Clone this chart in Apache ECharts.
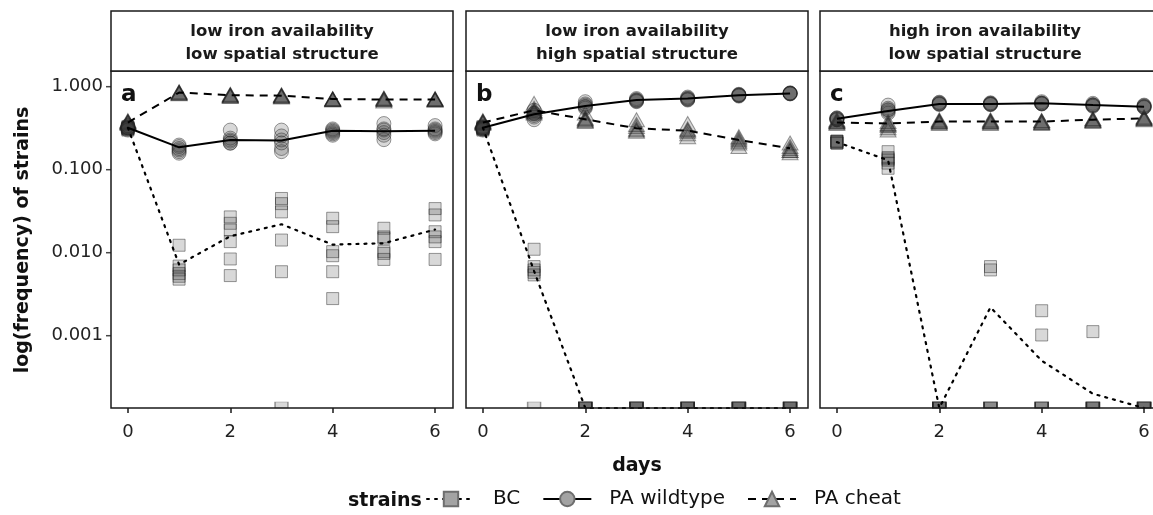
<!DOCTYPE html>
<html>
<head>
<meta charset="utf-8">
<script src="https://cdn.jsdelivr.net/npm/echarts@6/dist/echarts.min.js"></script>
<style>
  html, body { margin: 0; padding: 0; background: #fff; }
  #chart { width: 1153px; height: 515px; }
</style>
</head>
<body>
<div id="chart"></div>
<script>
  // days of sampling
  const days = [0, 1, 2, 3, 4, 5, 6]
  const yTicks = [0.001, 0.01, 0.1, 1]
  const xTicks = [0, 2, 4, 6]
  const panelTitles = [
    'low iron availability\nlow spatial structure',
    'low iron availability\nhigh spatial structure',
    'high iron availability\nlow spatial structure'
  ]
  const panelLetters = ['a', 'b', 'c']

  // replicate frequencies, one row per day (0 = not detected)
  const bcA = [
    [0.33, 0.32, 0.31, 0.30, 0.32, 0.31],
    [0.0123, 0.0069, 0.0062, 0.0056, 0.0048, 0.0052],
    [0.027, 0.0226, 0.0188, 0.0136, 0.0084, 0.0053],
    [0.045, 0.039, 0.031, 0.0142, 0.0059, 0],
    [0.026, 0.0206, 0.0103, 0.0092, 0.0059, 0.0028],
    [0.0197, 0.0149, 0.0103, 0.0098, 0.0083, 0.0155],
    [0.034, 0.0285, 0.0179, 0.0136, 0.0155, 0.0083]
  ]
  const wtA = [
    [0.33, 0.31, 0.32, 0.30, 0.34, 0.32],
    [0.198, 0.173, 0.158, 0.19, 0.165, 0.18],
    [0.30, 0.228, 0.208, 0.22, 0.24, 0.21],
    [0.30, 0.255, 0.228, 0.18, 0.165, 0.21],
    [0.31, 0.28, 0.26, 0.30, 0.29, 0.27],
    [0.36, 0.30, 0.23, 0.28, 0.26, 0.31],
    [0.34, 0.30, 0.27, 0.29, 0.31, 0.28]
  ]
  const chA = [
    [0.38, 0.37, 0.36, 0.39, 0.37, 0.38],
    [0.87, 0.84, 0.82, 0.86, 0.85, 0.83],
    [0.80, 0.78, 0.76, 0.81, 0.79, 0.77],
    [0.79, 0.77, 0.75, 0.80, 0.78, 0.76],
    [0.72, 0.70, 0.69, 0.71, 0.71, 0.70],
    [0.73, 0.70, 0.67, 0.71, 0.69, 0.72],
    [0.71, 0.70, 0.69, 0.72, 0.70, 0.69]
  ]
  const bcB = [
    [0.33, 0.32, 0.31, 0.30, 0.32, 0.31],
    [0.011, 0.0068, 0.0062, 0.0054, 0.0058, 0],
    [0, 0, 0, 0, 0, 0],
    [0, 0, 0, 0, 0, 0],
    [0, 0, 0, 0, 0, 0],
    [0, 0, 0, 0, 0, 0],
    [0, 0, 0, 0, 0, 0]
  ]
  const wtB = [
    [0.32, 0.31, 0.33, 0.30, 0.32, 0.31],
    [0.52, 0.47, 0.43, 0.40, 0.45, 0.48],
    [0.66, 0.60, 0.55, 0.58, 0.62, 0.57],
    [0.72, 0.69, 0.66, 0.70, 0.68, 0.67],
    [0.75, 0.72, 0.69, 0.71, 0.73, 0.70],
    [0.81, 0.79, 0.77, 0.80, 0.78, 0.79],
    [0.84, 0.83, 0.82, 0.83, 0.84, 0.82]
  ]
  const chB = [
    [0.38, 0.36, 0.37, 0.39, 0.37, 0.38],
    [0.63, 0.52, 0.50, 0.48, 0.55, 0.51],
    [0.48, 0.42, 0.38, 0.40, 0.41, 0.39],
    [0.40, 0.35, 0.31, 0.30, 0.33, 0.29],
    [0.36, 0.31, 0.27, 0.25, 0.29, 0.30],
    [0.25, 0.23, 0.21, 0.19, 0.22, 0.24],
    [0.21, 0.19, 0.17, 0.16, 0.18, 0.17]
  ]
  const bcC = [
    [0.22, 0.21, 0.22, 0.21, 0.22, 0.21],
    [0.165, 0.14, 0.13, 0.12, 0.104, 0.135],
    [0, 0, 0, 0, 0, 0],
    [0.0068, 0.0062, 0, 0, 0, 0],
    [0.0020, 0.00102, 0, 0, 0, 0],
    [0.00112, 0, 0, 0, 0, 0],
    [0, 0, 0, 0, 0, 0]
  ]
  const wtC = [
    [0.42, 0.41, 0.40, 0.41, 0.42, 0.40],
    [0.60, 0.55, 0.50, 0.48, 0.52, 0.53],
    [0.65, 0.63, 0.61, 0.62, 0.64, 0.62],
    [0.64, 0.62, 0.61, 0.63, 0.62, 0.61],
    [0.66, 0.63, 0.62, 0.64, 0.62, 0.63],
    [0.63, 0.61, 0.59, 0.60, 0.58, 0.60],
    [0.60, 0.58, 0.56, 0.57, 0.59, 0.57]
  ]
  const chC = [
    [0.40, 0.38, 0.37, 0.39, 0.38, 0.36],
    [0.38, 0.35, 0.32, 0.30, 0.34, 0.36],
    [0.40, 0.38, 0.36, 0.37, 0.39, 0.38],
    [0.40, 0.38, 0.36, 0.37, 0.39, 0.38],
    [0.39, 0.37, 0.36, 0.38, 0.37, 0.39],
    [0.41, 0.39, 0.38, 0.40, 0.39, 0.41],
    [0.43, 0.41, 0.40, 0.42, 0.41, 0.43]
  ]

  // mean lines
  const bcMeanA = [0.32, 0.0072, 0.0158, 0.022, 0.0125, 0.013, 0.019]
  const wtMeanA = [0.32, 0.186, 0.228, 0.225, 0.295, 0.29, 0.295]
  const chMeanA = [0.37, 0.85, 0.79, 0.78, 0.71, 0.70, 0.70]
  const bcMeanB = [0.32, 0.006, 0, 0, 0, 0, 0]
  const wtMeanB = [0.32, 0.465, 0.585, 0.69, 0.72, 0.79, 0.83]
  const chMeanB = [0.37, 0.52, 0.405, 0.315, 0.295, 0.228, 0.181]
  const bcMeanC = [0.215, 0.13, 0, 0.0022, 0.0005, 0.0002, 0]
  const wtMeanC = [0.41, 0.51, 0.62, 0.62, 0.63, 0.60, 0.575]
  const chMeanC = [0.37, 0.36, 0.38, 0.38, 0.38, 0.40, 0.415]

  const panels = [
    { bc: bcA, wt: wtA, ch: chA, bcMean: bcMeanA, wtMean: wtMeanA, chMean: chMeanA },
    { bc: bcB, wt: wtB, ch: chB, bcMean: bcMeanB, wtMean: wtMeanB, chMean: chMeanB },
    { bc: bcC, wt: wtC, ch: chC, bcMean: bcMeanC, wtMean: wtMeanC, chMean: chMeanC }
  ]

  // axis range (log10 -3.87 .. 0.19), zeros sit on the bottom edge like ggplot's -Inf
  const Y_MIN = Math.pow(10, -3.871)
  const Y_MAX = Math.pow(10, 0.189)
  const X_MIN = -0.33
  const X_MAX = 6.35

  const FONT = '"DejaVu Sans", "Liberation Sans", sans-serif'
  const panelLeft = [111, 466, 820]
  const panelWidth = 342
  const panelTop = 71
  const panelHeight = 337
  // the right panel is cut by the picture edge: keep its scale, show only the visible part
  const visibleWidth = [342, 342, 333]

  const pointFill = 'rgba(60,60,60,0.25)'
  const pointBorder = 'rgba(30,30,30,0.55)'

  function replicatePoints(rows, zeroAsBar) {
    let arr = []
    for (let i = 0; i < rows.length; i++) {
      for (let j = 0; j < rows[i].length; j++) {
        let v = rows[i][j]
        if (v > 0) {
          arr.push([days[i], v])
        } else if (zeroAsBar) {
          // half square, clipped by the panel border
          arr.push({ value: [days[i], Y_MIN], symbolSize: [13, 6], symbolOffset: [0, -3] })
        }
      }
    }
    return arr
  }

  function meanPoints(vals) {
    return vals.map((v, i) => [days[i], v > 0 ? v : Y_MIN])
  }

  let grids = [], xAxes = [], yAxes = [], series = [], graphics = []

  for (let p = 0; p < 3; p++) {
    let xMax = X_MIN + (X_MAX - X_MIN) * visibleWidth[p] / panelWidth
    grids.push({
      left: panelLeft[p], top: panelTop, width: visibleWidth[p], height: panelHeight,
      show: false
    })
    xAxes.push({
      type: 'value', gridIndex: p, min: X_MIN, max: xMax,
      axisLine: { show: false },
      splitLine: { show: false },
      axisTick: { show: true, length: 5, customValues: xTicks, lineStyle: { color: '#1a1a1a', width: 1.5 } },
      axisLabel: { show: true, customValues: xTicks, margin: 15, color: '#222', fontSize: 18, fontFamily: FONT }
    })
    yAxes.push({
      type: 'log', logBase: 10, gridIndex: p, min: Y_MIN, max: Y_MAX,
      axisLine: { show: false },
      splitLine: { show: false },
      axisTick: { show: false },
      axisLabel: {
        show: p === 0, customValues: yTicks, margin: 8, color: '#222', fontSize: 18, fontFamily: FONT,
        formatter: (v) => Number(v).toFixed(3)
      }
    })

    let d = panels[p]
    let scatterBase = {
      type: 'scatter', xAxisIndex: p, yAxisIndex: p, z: 2,
      itemStyle: { color: pointFill, borderColor: pointBorder, borderWidth: 1 },
      emphasis: { disabled: true }, silent: true
    }
    series.push(Object.assign({}, scatterBase, { name: 'bc-pts', symbol: 'rect', symbolSize: 12, data: replicatePoints(d.bc, true) }))
    series.push(Object.assign({}, scatterBase, { name: 'ch-pts', symbol: 'triangle', symbolSize: [16, 14], data: replicatePoints(d.ch, false) }))
    series.push(Object.assign({}, scatterBase, { name: 'wt-pts', symbol: 'circle', symbolSize: 14, data: replicatePoints(d.wt, false) }))

    let lineBase = {
      type: 'line', xAxisIndex: p, yAxisIndex: p, z: 3,
      showSymbol: false, silent: true, animation: false,
      itemStyle: { color: '#a3a3a3', borderColor: '#6e6e6e', borderWidth: 1 }
    }
    series.push(Object.assign({}, lineBase, {
      name: 'BC', symbol: 'rect', data: meanPoints(d.bcMean),
      lineStyle: { color: '#000', width: 2.2, type: [2, 6], cap: 'round' }
    }))
    series.push(Object.assign({}, lineBase, {
      name: 'PA wildtype', symbol: 'circle', data: meanPoints(d.wtMean),
      lineStyle: { color: '#000', width: 2 }
    }))
    series.push(Object.assign({}, lineBase, {
      name: 'PA cheat', symbol: 'triangle', data: meanPoints(d.chMean),
      lineStyle: { color: '#000', width: 2, type: [8, 6] }
    }))

    // panel border
    graphics.push({
      type: 'rect', z: 10, silent: true,
      shape: { x: panelLeft[p], y: panelTop, width: panelWidth, height: panelHeight },
      style: { fill: 'none', stroke: '#1a1a1a', lineWidth: 1.5 }
    })
    // facet strip
    graphics.push({
      type: 'rect', z: 10, silent: true,
      shape: { x: panelLeft[p], y: 11, width: panelWidth, height: 60 },
      style: { fill: '#fff', stroke: '#1a1a1a', lineWidth: 1.5 }
    })
    let stripX = p === 2 ? 985 : panelLeft[p] + panelWidth / 2
    graphics.push({
      type: 'text', z: 11, silent: true,
      style: {
        text: panelTitles[p], x: stripX, y: 43,
        textAlign: 'center', align: 'center', textVerticalAlign: 'middle', verticalAlign: 'middle',
        font: 'bold 16.5px ' + FONT, lineHeight: 23, fill: '#1a1a1a'
      }
    })
    // panel letter
    graphics.push({
      type: 'text', z: 11, silent: true,
      style: {
        text: panelLetters[p], x: panelLeft[p] + 10, y: 95,
        textAlign: 'left', align: 'left', textVerticalAlign: 'middle', verticalAlign: 'middle',
        font: 'bold 23px ' + FONT, fill: '#111'
      }
    })
  }

  // axis titles and legend title
  graphics.push({
    type: 'text', z: 11, rotation: Math.PI / 2, x: 23, y: 240, silent: true,
    style: {
      text: 'log(frequency) of strains', x: 0, y: 0,
      textAlign: 'center', align: 'center', textVerticalAlign: 'middle', verticalAlign: 'middle',
      font: 'bold 19px ' + FONT, fill: '#111'
    }
  })
  graphics.push({
    type: 'text', z: 11, silent: true,
    style: {
      text: 'days', x: 637, y: 466,
      textAlign: 'center', align: 'center', textVerticalAlign: 'middle', verticalAlign: 'middle',
      font: 'bold 19px ' + FONT, fill: '#111'
    }
  })
  graphics.push({
    type: 'text', z: 11, silent: true,
    style: {
      text: 'strains', x: 348, y: 501,
      textAlign: 'left', align: 'left', textVerticalAlign: 'middle', verticalAlign: 'middle',
      font: 'bold 19px ' + FONT, fill: '#111'
    }
  })

  // short tick marks left of panel a, one per labelled decade
  series.push({
    type: 'scatter', xAxisIndex: 0, yAxisIndex: 0, z: 4, silent: true, clip: false,
    symbol: 'rect', symbolSize: [5, 1.5], symbolOffset: [-2.5, 0],
    itemStyle: { color: '#1a1a1a' },
    data: yTicks.map((t) => [X_MIN, t])
  })

  let myChart = echarts.init(document.getElementById('chart'), null, { renderer: 'canvas' })
  myChart.setOption({
    animation: false,
    backgroundColor: '#fff',
    grid: grids,
    xAxis: xAxes,
    yAxis: yAxes,
    legend: {
      data: ['BC', 'PA wildtype', 'PA cheat'],
      left: 426, top: 489, padding: 0,
      itemWidth: 48, itemHeight: 18, itemGap: 22,
      selectedMode: false,
      textStyle: { fontSize: 20, fontFamily: FONT, color: '#111', padding: [0, 0, 0, 13] }
    },
    graphic: graphics,
    series: series
  })
</script>
</body>
</html>
